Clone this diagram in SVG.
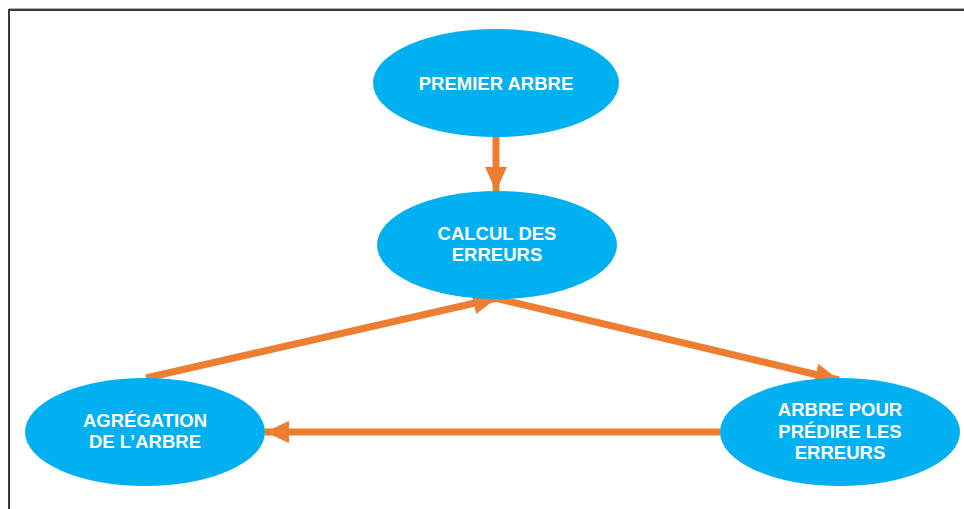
<svg xmlns="http://www.w3.org/2000/svg" width="964" height="509" viewBox="0 0 964 509">
  <style>
    .node { fill: #00B0F0; }
    .label { fill: #FFFFFF; font-family: "Liberation Sans", Arial, sans-serif; font-weight: bold; font-size: 18.5px; text-anchor: middle; }
    .edge { stroke: #ED7D31; stroke-width: 7; fill: none; }
  </style>
  <defs>
    <marker id="head" viewBox="0 0 24 22" refX="24" refY="11" markerWidth="24" markerHeight="22" markerUnits="userSpaceOnUse" orient="auto">
      <path d="M0,0 L24,11 L0,22 Z" fill="#ED7D31"/>
    </marker>
  </defs>
  <rect x="0" y="0" width="964" height="509" fill="#FFFFFF"/>
  <!-- frame -->
  <path d="M9,509 V10 H964" fill="none" stroke="#3A3A3A" stroke-width="2"/>
  <line x1="9" y1="8.5" x2="964" y2="8.5" stroke="#B0B0B0" stroke-width="1"/>

  <g id="connectors">
    <line class="edge" x1="496" y1="137" x2="496" y2="191" marker-end="url(#head)"/>
    <line class="edge" x1="146" y1="378" x2="497" y2="298" marker-end="url(#head)"/>
    <line class="edge" x1="495" y1="298" x2="839" y2="380" marker-end="url(#head)"/>
    <line class="edge" x1="720" y1="432" x2="265" y2="432" marker-end="url(#head)"/>
  </g>

  <g id="premier-arbre">
    <ellipse class="node" cx="496" cy="83" rx="123" ry="54"/>
    <text class="label" x="496" y="90">PREMIER ARBRE</text>
  </g>
  <g id="calcul-erreurs">
    <ellipse class="node" cx="497" cy="245" rx="120" ry="54"/>
    <text class="label" x="497" y="240">CALCUL DES</text>
    <text class="label" x="497" y="261">ERREURS</text>
  </g>
  <g id="agregation">
    <ellipse class="node" cx="145" cy="432" rx="120" ry="54"/>
    <text class="label" x="145" y="427">AGRÉGATION</text>
    <text class="label" x="145" y="448">DE L’ARBRE</text>
  </g>
  <g id="arbre-erreurs">
    <ellipse class="node" cx="840" cy="432" rx="120" ry="54"/>
    <text class="label" x="840" y="416">ARBRE POUR</text>
    <text class="label" x="840" y="438">PRÉDIRE LES</text>
    <text class="label" x="840" y="459">ERREURS</text>
  </g>
</svg>
